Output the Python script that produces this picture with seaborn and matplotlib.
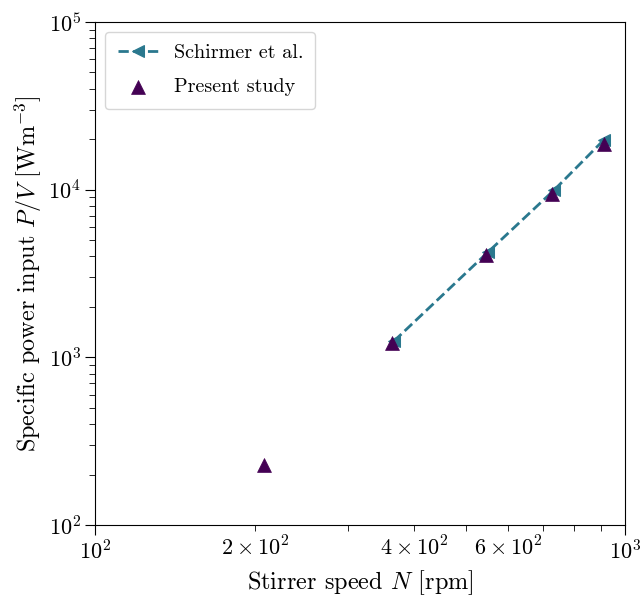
import numpy as np
import matplotlib
matplotlib.use("Agg")
import matplotlib.pyplot as plt
import seaborn as sns
from matplotlib.ticker import FixedLocator, FixedFormatter

# Data
schirmer_N = [366, 551, 734, 911]
schirmer_PV = [1250, 4250, 9950, 19800]
present_N = [208, 363, 546, 728, 911]
present_PV = [228, 1225, 4070, 9420, 18800]

x_minor_label_ticks = [200, 400, 600]
x_minor_labels = [r"$2\times10^{2}$", r"$4\times10^{2}$", r"$6\times10^{2}$"]

plt.rcParams["font.family"] = "serif"
plt.rcParams["font.serif"] = ["cmr10"]
plt.rcParams["mathtext.fontset"] = "cm"
plt.rcParams["axes.formatter.use_mathtext"] = True
plt.rcParams["axes.unicode_minus"] = False

teal = "#2a788e"
purple = "#440154"

fig = plt.figure(figsize=(6.4, 5.97), dpi=100)
ax = fig.add_axes([0.149, 0.1206, 0.828, 0.8425])

sns.lineplot(x=schirmer_N, y=schirmer_PV, ax=ax, color=teal, linestyle="--",
             linewidth=2, marker="<", markersize=8, markeredgecolor=teal,
             label="Schirmer et al.")
sns.scatterplot(x=present_N, y=present_PV, ax=ax, color=purple, marker="^",
                s=100, edgecolor=purple, linewidth=0.5, label="Present study",
                zorder=3)

ax.set_xscale("log")
ax.set_yscale("log")
ax.set_xlim(100, 1000)
ax.set_ylim(100, 1e5)

minor_locs = [v for v in np.arange(200, 1000, 100)]
ax.xaxis.set_minor_locator(FixedLocator(minor_locs))
ax.xaxis.set_minor_formatter(FixedFormatter(
    [x_minor_labels[x_minor_label_ticks.index(v)] if v in x_minor_label_ticks else "" for v in minor_locs]))

ax.tick_params(axis="both", which="major", labelsize=16, length=7)
ax.tick_params(axis="both", which="minor", labelsize=16, length=4)

ax.set_xlabel(r"Stirrer speed $N$ [rpm]", fontsize=17.5, labelpad=3)
ax.set_ylabel(r"Specific power input $P/V$ [Wm$^{-3}$]", fontsize=17.5, labelpad=3)

ax.legend(loc="upper left", fontsize=14.5, borderpad=0.6, labelspacing=0.8)

fig.savefig("out.png", dpi=100)
